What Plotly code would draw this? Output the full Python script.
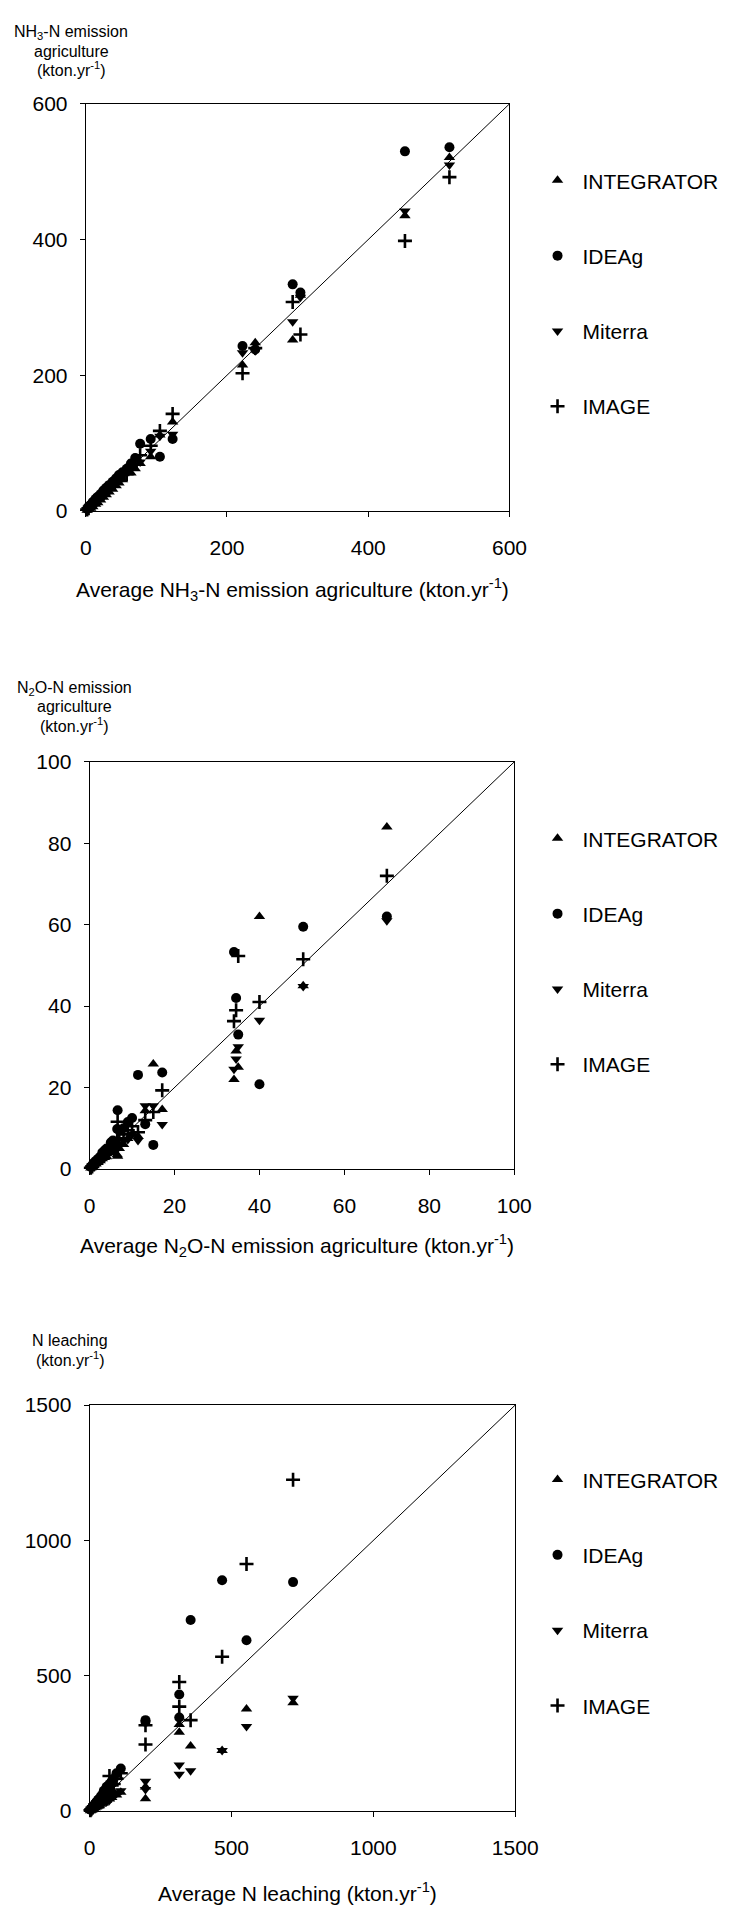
import plotly.graph_objects as go

W, H = 740, 1914
FONT = "Liberation Sans, Arial, sans-serif"

models = ["INTEGRATOR", "IDEAg", "Miterra", "IMAGE"]
symbols = ["triangle-up", "circle", "triangle-down", "cross-thin"]

# ---------- Chart 1: NH3-N emission agriculture (kton/yr) ----------
nh3_avg = [515, 452, 304, 293, 240, 222, 123, 105, 92, 77, 70, 64, 58, 52, 47, 43, 38, 33, 29, 25, 21, 17, 14, 10, 7, 4, 2]
nh3_integrator = [521, 435, 318, 252, 248, 215, 131, 112, 80, 70, 62, 56, 60, 46, 41, 37, 32, 28, 24, 20, 16, 12, 10, 6, 4, 2, 1]
nh3_ideag = [536, 530, 322, 334, 238, 243, 106, 80, 106, 99, 78, 70, 62, 57, 53, 48, 43, 38, 34, 30, 25, 21, 18, 13, 9, 6, 3]
nh3_miterra = [510, 442, 315, 279, 236, 233, 113, 110, 88, 72, 68, 66, 56, 52, 46, 43, 37, 33, 28, 25, 20, 17, 13, 10, 6, 4, 2]
nh3_image = [492, 398, 260, 308, 240, 203, 143, 118, 96, 82, 74, 64, 54, 53, 49, 44, 40, 34, 31, 26, 23, 18, 15, 11, 8, 4, 2]

# ---------- Chart 2: N2O-N emission agriculture (kton/yr) ----------
n2o_avg = [70, 50.3, 40, 34, 34.5, 35, 15, 17.1, 11.4, 13.1, 6.6, 10, 9, 8, 7, 6.5, 5.5, 5, 4, 3.5, 3, 2.5, 2, 1.5, 1, 0.6, 0.3]
n2o_integrator = [84, 45, 62, 22, 29, 25, 25.8, 14.6, 8, 14.3, 3.1, 8.5, 7.5, 6, 5, 3.5, 4.5, 4, 3, 2.8, 2.5, 2, 1.6, 1.2, 0.8, 0.5, 0.2]
n2o_ideag = [62, 59.5, 20.8, 53.3, 42, 33, 5.9, 23.7, 23.1, 11, 14.4, 12.5, 11.5, 10, 9.5, 9.8, 7, 6.5, 5, 4.5, 4, 3, 2.5, 2, 1.5, 0.9, 0.5]
n2o_miterra = [61, 44.8, 36.5, 24.5, 27, 30, 15.5, 10.9, 7, 15.5, 5, 8.5, 7.2, 7, 6, 5.5, 5, 4.2, 3.5, 3, 2.5, 2.2, 1.8, 1.2, 0.8, 0.5, 0.2]
n2o_image = [72, 51.5, 41, 36.3, 39, 52.3, 14, 19.3, 9, 12, 11.6, 10.5, 9.5, 8.5, 7.5, 7, 5.5, 5, 4.2, 3.5, 3, 2.6, 2.1, 1.6, 1.1, 0.6, 0.3]

# ---------- Chart 3: N leaching (kton/yr) ----------
nl_avg = [717, 553, 467, 356, 316, 316, 197, 197, 110, 95, 85, 78, 70, 65, 60, 55, 50, 45, 40, 35, 30, 25, 20, 15, 10, 6, 3]
nl_integrator = [400, 377, 224, 241, 291, 320, 46, 89, 70, 60, 72, 50, 45, 55, 40, 38, 30, 35, 25, 20, 18, 15, 12, 8, 5, 3, 1]
nl_ideag = [846, 631, 853, 706, 431, 346, 336, 330, 157, 140, 120, 110, 100, 85, 90, 70, 75, 60, 55, 45, 40, 35, 28, 20, 15, 9, 5]
nl_miterra = [417, 313, 224, 149, 136, 170, 110, 80, 75, 65, 55, 60, 40, 48, 35, 42, 35, 30, 28, 25, 22, 20, 15, 12, 8, 5, 2]
nl_image = [1224, 913, 570, 336, 477, 386, 317, 246, 140, 120, 100, 95, 130, 75, 70, 65, 60, 55, 50, 40, 35, 30, 25, 18, 12, 7, 3]

x_ticks_1 = [0, 200, 400, 600]
x_ticks_2 = [0, 20, 40, 60, 80, 100]
x_ticks_3 = [0, 500, 1000, 1500]

charts = [
    dict(avg=nh3_avg, ys=[nh3_integrator, nh3_ideag, nh3_miterra, nh3_image], rmax=600, ticks=x_ticks_1,
         box=(83, 524, 93, 505), legend_y=172,
         ytitle=["NH<sub>3</sub>-N emission", "agriculture", "(kton.yr<sup>-1</sup>)"], ytitle_x=68, ytitle_y=[21, 40, 58],
         xtitle="Average NH<sub>3</sub>-N emission agriculture (kton.yr<sup>-1</sup>)", xtitle_y=585),
    dict(avg=n2o_avg, ys=[n2o_integrator, n2o_ideag, n2o_miterra, n2o_image], rmax=100, ticks=x_ticks_2,
         box=(87, 529, 759, 1171), legend_y=838,
         ytitle=["N<sub>2</sub>O-N emission", "agriculture", "(kton.yr<sup>-1</sup>)"], ytitle_x=71, ytitle_y=[685, 703, 722],
         xtitle="Average N<sub>2</sub>O-N emission agriculture (kton.yr<sup>-1</sup>)", xtitle_y=1249),
    dict(avg=nl_avg, ys=[nl_integrator, nl_ideag, nl_miterra, nl_image], rmax=1500, ticks=x_ticks_3,
         box=(87, 530, 1410, 1821), legend_y=1487,
         ytitle=["N leaching", "(kton.yr<sup>-1</sup>)"], ytitle_x=67, ytitle_y=[1345, 1363],
         xtitle="Average N leaching (kton.yr<sup>-1</sup>)", xtitle_y=1903),
]

fig = go.Figure()
annotations = []
layout_updates = {}

for i, c in enumerate(charts):
    n = i + 1
    xa = "x" if n == 1 else f"x{n}"
    ya = "y" if n == 1 else f"y{n}"
    leg = "legend" if n == 1 else f"legend{n}"
    x0, x1, y0, y1 = c["box"]

    # 1:1 line
    fig.add_trace(go.Scatter(x=[0, c["rmax"]], y=[0, c["rmax"]], mode="lines",
                             line=dict(color="black", width=1), showlegend=False,
                             xaxis=xa, yaxis=ya, hoverinfo="skip"))
    for m, (name, sym, yv) in enumerate(zip(models, symbols, c["ys"])):
        if sym == "cross-thin":
            marker = dict(symbol=sym, size=10, color="black", line=dict(color="black", width=2.6))
        else:
            marker = dict(symbol=sym, size=10, color="black", line=dict(width=0))
        fig.add_trace(go.Scatter(x=c["avg"], y=yv, mode="markers", name=name, marker=marker,
                                 xaxis=xa, yaxis=ya, legend=leg, legendgroup=f"{n}-{name}",
                                 cliponaxis=False))

    axis_common = dict(showline=True, mirror=True, linecolor="black", linewidth=1, showgrid=False,
                       zeroline=False, ticks="outside", ticklen=5, tickwidth=1, tickcolor="black",
                       tickfont=dict(family=FONT, size=21, color="black"),
                       range=[0, c["rmax"]], tickvals=c["ticks"], fixedrange=True)
    layout_updates["xaxis" if n == 1 else f"xaxis{n}"] = dict(
        axis_common, domain=[x0 / W, x1 / W], anchor=ya, ticklabelstandoff=13)
    layout_updates["yaxis" if n == 1 else f"yaxis{n}"] = dict(
        axis_common, domain=[1 - y1 / H, 1 - y0 / H], anchor=xa, ticklabelstandoff=8)

    layout_updates[leg] = dict(x=548 / W, y=1 - (c["legend_y"] - 22) / H, xanchor="left", yanchor="top",
                               font=dict(family=FONT, size=21, color="black"), tracegroupgap=45,
                               traceorder="grouped", bgcolor="rgba(0,0,0,0)", itemwidth=40)

    for line_text, ly in zip(c["ytitle"], c["ytitle_y"]):
        annotations.append(dict(text=line_text, x=c["ytitle_x"] / W, y=1 - ly / H, xref="paper", yref="paper",
                                xanchor="center", yanchor="middle", showarrow=False,
                                font=dict(family=FONT, size=16, color="black")))
    annotations.append(dict(text=c["xtitle"], x=(x0 + x1) / 2 / W - 5 / W, y=1 - c["xtitle_y"] / H,
                            xref="paper", yref="paper", xanchor="center", yanchor="middle", showarrow=False,
                            font=dict(family=FONT, size=21, color="black")))

fig.update_layout(width=W, height=H, margin=dict(l=0, r=0, t=0, b=0), autosize=False,
                  paper_bgcolor="white", plot_bgcolor="white", showlegend=True,
                  annotations=annotations, **layout_updates)

fig.write_html("out.html", config={"displayModeBar": False})
